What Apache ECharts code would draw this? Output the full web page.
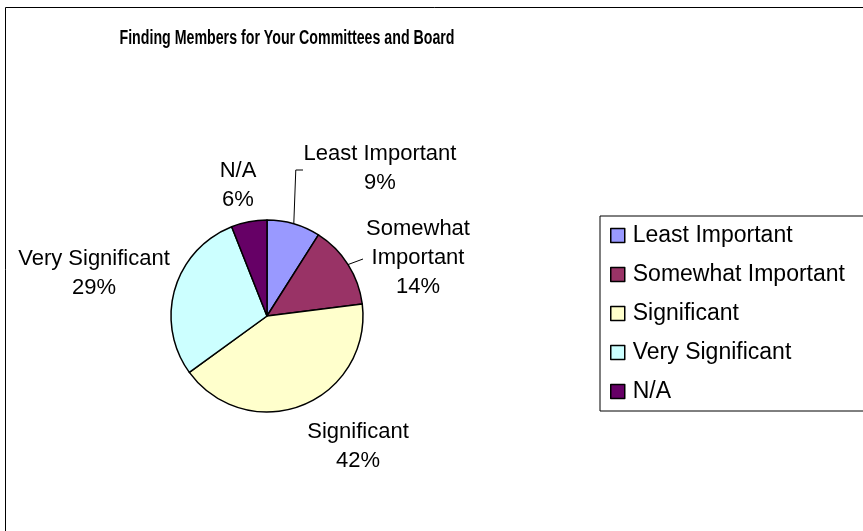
<!DOCTYPE html>
<html>
<head>
<meta charset="utf-8">
<script src="https://cdn.jsdelivr.net/npm/echarts@6/dist/echarts.min.js"></script>
<style>
  html, body { margin: 0; padding: 0; background: #fff; }
  #chart { width: 863px; height: 531px; }
</style>
</head>
<body>
<div id="chart"></div>
<script>
// Survey answers, percent of respondents
const categories = ['Least Important', 'Somewhat Important', 'Significant', 'Very Significant', 'N/A'];
const shares = [9, 14, 42, 29, 6];
const sliceColors = ['#9999FF', '#993366', '#FFFFCC', '#CCFFFF', '#660066'];
// wrapped names used on the slice labels
const labelNames = ['Least Important', 'Somewhat\nImportant', 'Significant', 'Very Significant', 'N/A'];

// label placement (centre of each label block) and whether it gets a leader line
const labelCenters = [[380, 168], [418, 258], [358, 446], [94, 273], [238, 185]];
const hasLeader = [true, true, false, false, false];

const FONT = "'Liberation Sans', Arial, sans-serif";

const chart = echarts.init(document.getElementById('chart'), null, { renderer: 'canvas' });

chart.setOption({
  backgroundColor: '#ffffff',
  animation: false,
  color: sliceColors,
  graphic: [
    {
      type: 'rect',
      shape: { x: 5.5, y: 7.5, width: 900, height: 600 },
      style: { fill: 'none', stroke: '#000', lineWidth: 1 },
      silent: true
    },
    {
      // condensed bold title
      type: 'text',
      x: 287, y: 38,
      scaleX: 0.71,
      style: {
        text: 'Finding Members for Your Committees and Board',
        x: 0, y: 0,
        align: 'center', verticalAlign: 'middle',
        font: 'bold 20px ' + FONT,
        fill: '#000'
      }
    }
  ],
  legend: {
    orient: 'vertical',
    left: 600,
    top: 216,
    padding: [8, 80, 8, 10],
    borderColor: '#000',
    borderWidth: 1,
    itemWidth: 14,
    itemHeight: 14,
    itemGap: 16,
    icon: 'rect',
    itemStyle: { borderColor: '#000', borderWidth: 1.5 },
    textStyle: { fontFamily: FONT, fontSize: 23, color: '#000', lineHeight: 23, padding: [0, 0, 0, 3] },
    data: categories
  },
  series: [{
    type: 'pie',
    center: [267, 316],
    radius: 96,
    startAngle: 90,
    clockwise: true,
    avoidLabelOverlap: false,
    itemStyle: { borderColor: '#000', borderWidth: 1.5 },
    label: {
      show: true,
      position: 'outside',
      fontFamily: FONT,
      fontSize: 22,
      lineHeight: 29,
      color: '#000',
      align: 'center',
      formatter: p => labelNames[p.dataIndex] + '\n' + p.value + '%'
    },
    labelLine: { show: true, lineStyle: { color: '#000', width: 1 } },
    labelLayout: function (params) {
      const i = params.dataIndex;
      const c = labelCenters[i];
      const out = { x: c[0], y: c[1], align: 'center', verticalAlign: 'middle' };
      if (hasLeader[i] && params.labelLinePoints) {
        const a = params.labelLinePoints[0];
        if (i === 0) {
          out.labelLinePoints = [[a[0], a[1]], [a[0] + 2, 170], [303, 170]];
        } else {
          out.labelLinePoints = [[a[0], a[1]], [363, 259]];
        }
      }
      return out;
    },
    emphasis: { disabled: true },
    data: categories.map((name, i) => ({
      name: name,
      value: shares[i],
      labelLine: { show: hasLeader[i] }
    }))
  }]
});
</script>
</body>
</html>
